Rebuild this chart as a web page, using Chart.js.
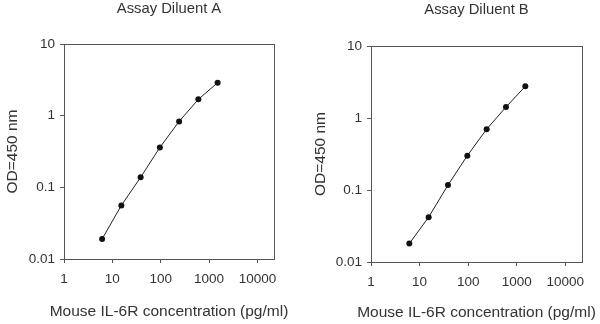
<!DOCTYPE html>
<html>
<head>
<meta charset="utf-8">
<script src="https://cdn.jsdelivr.net/npm/chart.js@4.4.0/dist/chart.umd.min.js"></script>
<style>
  body { margin: 0; background: #fff; }
  .wrap { display: flex; width: 600px; height: 324px; }
  canvas { display: block; }
</style>
</head>
<body>
<div class="wrap">
  <canvas id="chartA" width="300" height="324"></canvas>
  <canvas id="chartB" width="300" height="324"></canvas>
</div>
<script>
const concentrations = [6.14, 15.36, 38.4, 96, 240, 600, 1500];
const diluentA = [0.019, 0.056, 0.138, 0.36, 0.83, 1.69, 2.88];
const diluentB = [0.018, 0.042, 0.117, 0.30, 0.70, 1.42, 2.75];
const xTicks = [1, 10, 100, 1000, 10000];
const yTicks = [0.01, 0.1, 1, 10];

const textColor = '#333';
const axisColor = '#555';
const fontFamily = '"Liberation Sans", Arial, sans-serif';

// box round the plot area, chart title and x title centred on it
// (x title drawn here because it is wider than the axis and chart.js would squeeze it)
const framePlugin = {
    id: 'frame',
    afterDraw(chart, args, opts) {
        const { ctx, chartArea: a } = chart;
        const cx = (a.left + a.right) / 2;
        ctx.save();
        ctx.strokeStyle = axisColor;
        ctx.lineWidth = 1;
        ctx.strokeRect(Math.round(a.left) + 0.5, Math.round(a.top) + 0.5,
            Math.round(a.right - a.left), Math.round(a.bottom - a.top));
        ctx.fillStyle = textColor;
        ctx.textAlign = 'center';
        ctx.textBaseline = 'middle';
        ctx.font = '14.8px ' + fontFamily;
        ctx.fillText(opts.text, cx, opts.y);
        ctx.font = '15.5px ' + fontFamily;
        ctx.fillText(opts.xTitle, cx, opts.xTitleY);
        ctx.restore();
    }
};

function makeChart(id, title, values, g) {
    const points = concentrations.map((c, i) => ({ x: c, y: values[i] }));
    return new Chart(document.getElementById(id), {
        type: 'scatter',
        data: {
            datasets: [{
                data: points,
                showLine: true,
                borderColor: '#222',
                borderWidth: 1,
                pointRadius: 3,
                pointBackgroundColor: '#111',
                pointBorderWidth: 0
            }]
        },
        options: {
            responsive: false,
            animation: false,
            layout: { padding: { top: g.top, right: 300 - g.right, left: 0, bottom: 0 } },
            scales: {
                x: {
                    type: 'logarithmic',
                    min: 1,
                    max: 22000,
                    afterBuildTicks: s => { s.ticks = xTicks.map(v => ({ value: v })); },
                    afterFit: s => { s.height = 324 - g.bottom; },
                    ticks: {
                        color: textColor,
                        font: { family: fontFamily, size: 13.5 },
                        maxRotation: 0,
                        autoSkip: false,
                        padding: 8,
                        callback: v => String(v)
                    },
                    grid: { drawOnChartArea: false, tickLength: 4, color: axisColor },
                    border: { color: axisColor }
                },
                y: {
                    type: 'logarithmic',
                    min: 0.01,
                    max: 10,
                    afterBuildTicks: s => { s.ticks = yTicks.map(v => ({ value: v })); },
                    afterFit: s => { s.width = g.left; },
                    ticks: {
                        color: textColor,
                        font: { family: fontFamily, size: 13.5 },
                        autoSkip: false,
                        padding: 5,
                        callback: v => String(v)
                    },
                    grid: { drawOnChartArea: false, tickLength: 4, color: axisColor },
                    border: { color: axisColor },
                    title: {
                        display: true,
                        text: 'OD=450 nm',
                        color: textColor,
                        font: { family: fontFamily, size: 15.5 },
                        padding: { top: g.yTitlePad, bottom: 0 }
                    }
                }
            },
            plugins: {
                legend: { display: false },
                tooltip: { enabled: false },
                frame: {
                    text: title,
                    y: g.titleY,
                    xTitle: 'Mouse IL-6R concentration (pg/ml)',
                    xTitleY: g.xTitleY
                }
            }
        },
        plugins: [framePlugin]
    });
}

makeChart('chartA', 'Assay Diluent A', diluentA,
    { left: 64, right: 274, top: 44, bottom: 259, titleY: 9, xTitleY: 312, yTitlePad: 3.2 });
makeChart('chartB', 'Assay Diluent B', diluentB,
    { left: 71, right: 282, top: 46, bottom: 262, titleY: 10, xTitleY: 313, yTitlePad: 11.2 });
</script>
</body>
</html>
